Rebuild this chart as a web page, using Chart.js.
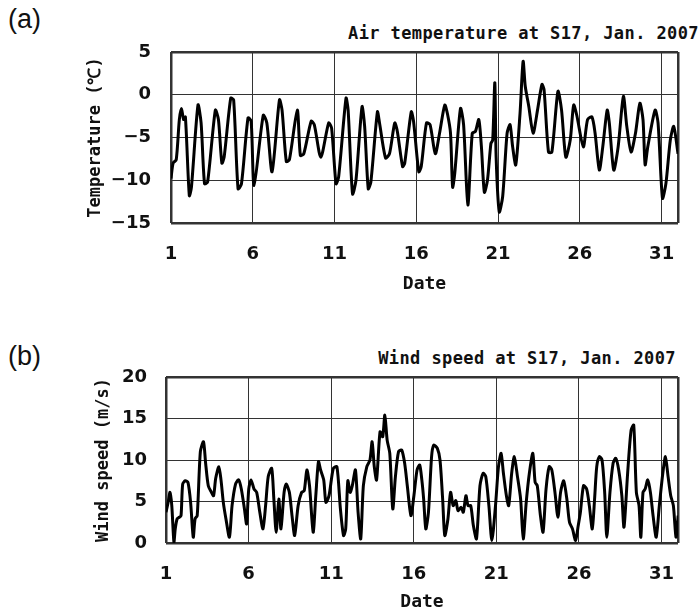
<!DOCTYPE html>
<html>
<head>
<meta charset="utf-8">
<script src="https://cdn.jsdelivr.net/npm/chart.js@4"></script>
<style>
  html, body { margin: 0; padding: 0; background: #fff; overflow: hidden; }
  #page { position: relative; width: 699px; height: 613px; }
  .panel { position: absolute; font-family: "Liberation Sans", Arial, sans-serif; font-size: 27px; color: #111; }
  .title { position: absolute; font-family: "DejaVu Sans Mono", monospace; font-weight: bold; font-size: 17px;
           letter-spacing: 0.4px; line-height: 20px; white-space: nowrap; color: #111; }
  canvas { position: absolute; left: 0; }
</style>
</head>
<body>
<div id="page">
  <div class="panel" style="left:8px;top:4px;">(a)</div>
  <div class="title" style="left:348px;top:23px;">Air temperature at S17, Jan. 2007</div>
  <div style="position:absolute;left:0;top:0;width:699px;height:300px;"><canvas id="tempChart"></canvas></div>

  <div class="panel" style="left:8px;top:341px;">(b)</div>
  <div class="title" style="right:23px;top:348px;">Wind speed at S17, Jan. 2007</div>
  <div style="position:absolute;left:0;top:300px;width:699px;height:313px;"><canvas id="windChart"></canvas></div>
</div>

<script>
// date axis (day of January 2007)
var dateTicks = [1, 6, 11, 16, 21, 26, 31];
var dateMin = 1;
var dateMax = 32;

// (a) air temperature (day, degC)
var tempDays = [1.00, 1.13, 1.32, 1.51, 1.64, 1.77, 1.88, 2.12, 2.25, 2.65, 2.84, 3.05, 3.24, 3.71, 3.90, 4.11, 4.25, 4.65, 4.83,
  5.10, 5.31, 5.71, 5.90, 6.08, 6.64, 6.86, 7.18, 7.63, 7.79, 8.05, 8.24, 8.72, 8.91, 9.12, 9.57, 9.76, 10.16, 10.64, 10.82,
  11.09, 11.25, 11.70, 11.83, 12.10, 12.31, 12.68, 12.84, 13.06, 13.22, 13.62, 13.75, 14.12, 14.36, 14.68, 14.84, 15.16, 15.29,
  15.69, 15.83, 16.15, 16.30, 16.62, 16.84, 17.16, 17.42, 17.74, 17.90, 18.09, 18.22, 18.35, 18.70, 18.89, 19.15, 19.42, 19.61,
  19.82, 19.98, 20.16, 20.35, 20.56, 20.67, 20.80, 20.88, 21.07, 21.28, 21.55, 21.73, 21.89, 22.08, 22.34, 22.53, 22.66, 22.88,
  23.14, 23.41, 23.68, 23.81, 24.08, 24.29, 24.66, 24.88, 25.14, 25.41, 25.62, 25.81, 26.21, 26.47, 26.74, 26.93, 27.19, 27.40,
  27.67, 27.80, 28.07, 28.34, 28.66, 28.87, 29.13, 29.40, 29.67, 29.86, 29.99, 30.15, 30.60, 30.78, 31.05, 31.26, 31.53, 31.74, 32.00];
var tempValues = [-9.8, -8.0, -7.6, -2.9, -1.6, -2.9, -2.6, -11.8, -10.8, -1.2, -3.3, -10.4, -10.2, -1.8, -2.9, -8.0, -7.3, -0.4, -0.6,
  -11.0, -10.4, -2.7, -3.1, -10.6, -2.4, -3.3, -9.0, -0.6, -1.8, -7.8, -7.6, -1.8, -7.1, -6.9, -3.1, -3.5, -7.3, -3.3, -3.9,
  -10.4, -9.6, -0.4, -1.8, -11.6, -10.0, -1.4, -3.7, -11.0, -10.2, -2.0, -3.3, -7.4, -6.9, -3.3, -4.3, -8.4, -8.0,
  -2.0, -3.1, -9.0, -8.4, -3.3, -3.5, -6.9, -4.5, -1.2, -2.2, -4.5, -10.8, -9.2, -1.6, -3.5, -12.9, -4.5, -4.3,
  -2.9, -6.1, -11.4, -10.0, -5.7, -5.3, 1.4, -7.3, -13.7, -11.9, -4.5, -3.5, -6.1, -8.2, -2.2, 3.9, 1.0, -1.4,
  -4.5, -1.8, 1.2, 0.6, -6.7, -6.7, 0.4, -1.8, -7.3, -5.3, -1.2, -2.4, -6.1, -2.9, -2.6, -4.5, -8.8, -6.1,
  -1.8, -3.3, -8.8, -6.1, -0.2, -3.7, -6.7, -4.5, -1.0, -2.9, -8.2, -6.1, -1.8, -3.3, -12.1, -10.4, -5.3, -3.7, -6.9];
var tempTicks = [-15, -10, -5, 0, 5];

// (b) wind speed (day, m/s)
var windDays = [1.00, 1.13, 1.24, 1.35, 1.48, 1.56, 1.67, 1.80, 1.91, 2.01, 2.17, 2.33, 2.49, 2.65, 2.76, 2.89, 3.08, 3.27, 3.40,
  3.56, 3.75, 3.88, 4.01, 4.20, 4.33, 4.47, 4.63, 4.84, 5.00, 5.21, 5.40, 5.56, 5.75, 5.88, 6.01, 6.15, 6.33, 6.49, 6.68, 6.87,
  7.03, 7.19, 7.40, 7.53, 7.67, 7.83, 7.96, 8.15, 8.28, 8.47, 8.63, 8.79, 9.00, 9.21, 9.37, 9.53, 9.69, 9.91, 10.07, 10.23,
  10.36, 10.55, 10.68, 10.87, 11.13, 11.35, 11.56, 11.75, 11.88, 12.01, 12.15, 12.28, 12.47, 12.63, 12.79, 12.95, 13.16, 13.35,
  13.48, 13.61, 13.75, 13.96, 14.12, 14.25, 14.39, 14.55, 14.73, 14.89, 15.08, 15.27, 15.45, 15.61, 15.83, 16.01, 16.20, 16.36,
  16.49, 16.60, 16.73, 16.89, 17.08, 17.21, 17.43, 17.59, 17.75, 17.88, 18.07, 18.23, 18.39, 18.55, 18.68, 18.87, 19.00, 19.16,
  19.29, 19.45, 19.61, 19.80, 20.01, 20.20, 20.36, 20.55, 20.73, 20.95, 21.13, 21.29, 21.43, 21.61, 21.75, 21.93, 22.09, 22.28,
  22.47, 22.63, 22.81, 23.00, 23.21, 23.35, 23.48, 23.67, 23.83, 24.01, 24.20, 24.36, 24.55, 24.73, 24.89, 25.08, 25.27, 25.43,
  25.61, 25.80, 25.96, 26.09, 26.28, 26.47, 26.63, 26.81, 26.95, 27.08, 27.24, 27.40, 27.56, 27.69, 27.88, 28.07, 28.23, 28.41,
  28.60, 28.73, 28.95, 29.16, 29.32, 29.48, 29.64, 29.75, 29.88, 30.01, 30.17, 30.33, 30.49, 30.68, 30.87, 31.08, 31.24, 31.40,
  31.56, 31.72, 31.88, 32.01];
var windValues = [3.7, 4.9, 6.1, 4.5, 0.1, 1.7, 2.9, 3.1, 3.3, 7.1, 7.5, 7.3, 4.9, 0.7, 2.9, 3.3, 11.0, 12.2, 9.6,
  6.9, 6.1, 5.7, 7.8, 9.2, 7.6, 4.9, 2.9, 0.7, 4.5, 7.1, 7.6, 6.5, 4.1, 2.3, 6.5, 7.6, 6.5, 6.1, 3.7, 1.7,
  4.5, 8.0, 9.0, 5.3, 1.3, 5.3, 1.7, 6.1, 7.1, 6.1, 3.3, 0.9, 4.5, 6.1, 6.3, 8.8, 6.9, 1.3, 5.7, 9.8,
  8.8, 7.6, 4.9, 5.7, 9.0, 9.2, 4.1, 0.9, 1.7, 7.5, 6.1, 6.9, 8.8, 3.7, 0.5, 6.9, 9.2, 10.0,
  12.2, 9.2, 7.6, 13.4, 12.8, 15.4, 12.4, 10.8, 4.1, 8.0, 11.0, 11.2, 9.6, 6.9, 3.3, 5.7, 8.8, 9.4,
  7.6, 5.3, 1.7, 3.7, 10.4, 11.8, 11.4, 10.0, 5.3, 0.9, 2.9, 6.1, 4.5, 5.1, 3.9, 4.3, 3.7, 5.7,
  4.5, 4.5, 2.1, 0.5, 6.9, 8.4, 8.0, 4.5, 0.3, 4.5, 9.2, 10.8, 8.4, 5.7, 4.5, 8.4, 10.4, 8.0,
  5.3, 0.5, 4.9, 8.4, 10.8, 7.3, 6.9, 3.3, 1.3, 6.5, 9.2, 8.8, 6.1, 3.1, 6.1, 7.5, 5.3, 2.5,
  1.7, 0.3, 2.1, 3.7, 6.9, 6.5, 4.5, 1.7, 5.3, 9.2, 10.4, 10.0, 6.1, 0.7, 6.1, 9.6, 10.2, 8.8,
  5.7, 1.9, 8.4, 13.6, 14.2, 6.1, 4.5, 0.7, 6.1, 6.5, 7.6, 6.1, 3.3, 0.7, 4.5, 8.4, 10.4, 8.0,
  5.7, 4.5, 0.7, 3.3];
var windTicks = [0, 5, 10, 15, 20];

var FONT = '"DejaVu Sans", sans-serif';
var MONO = '"DejaVu Sans Mono", monospace';

function toPoints(xs, ys) {
  return xs.map(function (x, i) { return { x: x, y: ys[i] }; });
}

function makeChart(id, cfg) {
  var yMin = cfg.yTicks[0];
  var yMax = cfg.yTicks[cfg.yTicks.length - 1];
  return new Chart(document.getElementById(id), {
    type: 'line',
    data: {
      datasets: [{
        data: toPoints(cfg.xs, cfg.ys),
        borderColor: '#000',
        borderWidth: 3,
        pointRadius: 0,
        tension: 0.25,
        fill: false
      }]
    },
    options: {
      responsive: true,
      maintainAspectRatio: false,
      animation: false,
      events: [],
      layout: { padding: { top: cfg.top, right: cfg.right, left: 0, bottom: 0 } },
      plugins: { legend: { display: false }, tooltip: { enabled: false } },
      scales: {
        x: {
          type: 'linear',
          min: dateMin,
          max: dateMax,
          afterBuildTicks: function (scale) {
            scale.ticks = dateTicks.concat([dateMax]).map(function (v) { return { value: v }; });
          },
          afterFit: function (scale) { scale.height = cfg.xHeight; },
          border: { display: false },
          grid: {
            color: '#333',
            drawTicks: false,
            lineWidth: function (c) { return (c.tick && (c.tick.value === dateMin || c.tick.value === dateMax)) ? 2.5 : 1; }
          },
          ticks: {
            autoSkip: false,
            maxRotation: 0,
            padding: cfg.xPad,
            color: '#111',
            font: { family: FONT, size: 18, weight: 'bold' },
            callback: function (v) { return v === dateMax ? '' : v; }
          },
          title: {
            display: true,
            text: 'Date',
            color: '#111',
            font: { family: MONO, size: 18, weight: 'bold' },
            padding: { top: 0, bottom: cfg.xTitlePad }
          }
        },
        y: {
          min: yMin,
          max: yMax,
          afterBuildTicks: function (scale) {
            scale.ticks = cfg.yTicks.map(function (v) { return { value: v }; });
          },
          afterFit: function (scale) { scale.width = cfg.yWidth; },
          border: { display: false },
          grid: {
            color: '#333',
            drawTicks: false,
            lineWidth: function (c) { return (c.tick && (c.tick.value === yMin || c.tick.value === yMax)) ? 2.5 : 1; }
          },
          ticks: {
            padding: cfg.yPad,
            color: '#111',
            font: { family: FONT, size: 18, weight: 'bold' },
            callback: function (v) { return v < 0 ? '\u2212' + Math.abs(v) : v; }
          },
          title: {
            display: true,
            text: cfg.yTitle,
            color: '#111',
            font: { family: MONO, size: 17, weight: 'bold' },
            padding: { top: cfg.yTitlePad, bottom: 0 }
          }
        }
      }
    }
  });
}

makeChart('tempChart', {
  xs: tempDays, ys: tempValues, yTicks: tempTicks,
  yTitle: 'Temperature (\u2103)',
  top: 52, right: 10, yWidth: 171, xHeight: 77,
  xPad: 21, yPad: 20, xTitlePad: 5, yTitlePad: 85
});

makeChart('windChart', {
  xs: windDays, ys: windValues, yTicks: windTicks,
  yTitle: 'Wind speed (m/s)',
  top: 77, right: 15, yWidth: 166, xHeight: 70,
  xPad: 21, yPad: 19, xTitlePad: 0, yTitlePad: 93
});
</script>
</body>
</html>
